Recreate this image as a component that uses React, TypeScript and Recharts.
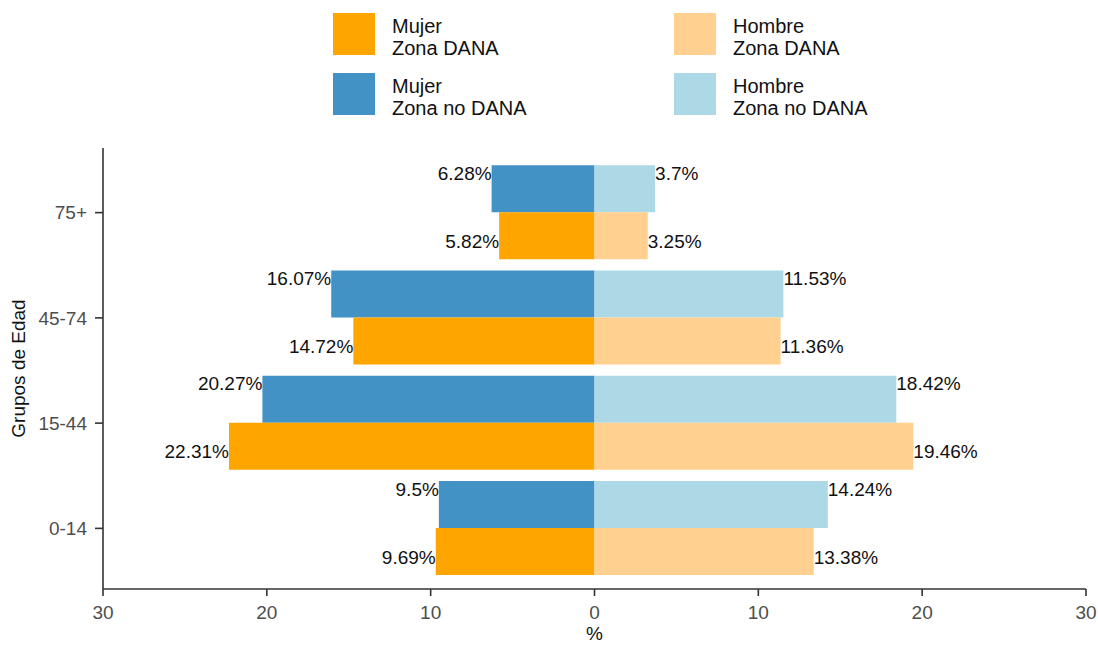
import React from 'react';
import { BarChart, Bar, XAxis, YAxis, LabelList } from 'recharts';

// ---- data ----
const grupos = ['75+', '45-74', '15-44', '0-14'];
const mujerNoDana = [6.28, 16.07, 20.27, 9.5];
const hombreNoDana = [3.7, 11.53, 18.42, 14.24];
const mujerDana = [5.82, 14.72, 22.31, 9.69];
const hombreDana = [3.25, 11.36, 19.46, 13.38];
const xTicks = [-30, -20, -10, 0, 10, 20, 30];

const tableData = grupos.map((g, i) => ({
  grupo: g,
  mujerNoDana: -mujerNoDana[i],
  hombreNoDana: hombreNoDana[i],
  mujerDana: -mujerDana[i],
  hombreDana: hombreDana[i],
}));

const FONT = '"Liberation Sans", Arial, Helvetica, sans-serif';

type Serie = { key: string; sexo: string; zona: string; color: string; stack: string };
const series: Serie[] = [
  { key: 'mujerNoDana', sexo: 'Mujer', zona: 'Zona no DANA', color: '#4292C6', stack: 'no' },
  { key: 'hombreNoDana', sexo: 'Hombre', zona: 'Zona no DANA', color: '#ADD8E6', stack: 'no' },
  { key: 'mujerDana', sexo: 'Mujer', zona: 'Zona DANA', color: '#FFA500', stack: 'si' },
  { key: 'hombreDana', sexo: 'Hombre', zona: 'Zona DANA', color: '#FFD08F', stack: 'si' },
];

const makeLabel = (side: 'left' | 'right', dyTop: number) => (props: any) => {
  const { x, y, width, value } = props;
  const x0 = Number(x);
  const w = Number(width);
  const left = Math.min(x0, x0 + w);
  const right = Math.max(x0, x0 + w);
  const tx = side === 'left' ? left : right;
  return (
    <text
      x={tx}
      y={Number(y) + dyTop}
      textAnchor={side === 'left' ? 'end' : 'start'}
      dominantBaseline="central"
      fill="#111"
      fontSize={19}
      fontFamily={FONT}
    >
      {`${Math.abs(Number(value))}%`}
    </text>
  );
};

const Legend = () => (
  <>
    {series.map((s) => {
      const col = s.sexo === 'Mujer' ? 0 : 1;
      const row = s.zona === 'Zona DANA' ? 0 : 1;
      const left = 333 + col * 341;
      const top = 13 + row * 60;
      return (
        <div key={s.key} style={{ position: 'absolute', left, top, display: 'flex' }}>
          <div style={{ width: 42, height: 42, background: s.color }} />
          <div
            style={{
              marginLeft: 17,
              marginTop: 3,
              fontFamily: FONT,
              fontSize: 20,
              lineHeight: '21.5px',
              color: '#111',
            }}
          >
            {s.sexo}
            <br />
            {s.zona}
          </div>
        </div>
      );
    })}
  </>
);

export default function App() {
  return (
    <div style={{ position: 'absolute', left: 0, top: 0, width: 1098, height: 646, background: '#fff' }}>
      <Legend />
      <BarChart
        width={1098}
        height={646}
        data={tableData}
        layout="vertical"
        stackOffset="sign"
        barCategoryGap="5%"
        barGap={0}
        margin={{ top: 148, right: 12, bottom: 0, left: 0 }}
      >
        <XAxis
          type="number"
          domain={[-30, 30]}
          ticks={xTicks}
          tickFormatter={(v: number) => String(Math.abs(v))}
          height={57}
          tickSize={7}
          tickMargin={10}
          axisLine={{ stroke: '#333', strokeWidth: 1.6 }}
          tickLine={{ stroke: '#333', strokeWidth: 1.6 }}
          tick={{ fill: '#4d4d4d', fontSize: 19, fontFamily: FONT }}
          allowDataOverflow
          label={{
            content: (p: any) => {
              const vb = p.viewBox || {};
              return (
                <text
                  x={vb.x + vb.width / 2}
                  y={vb.y + 51}
                  textAnchor="middle"
                  fill="#111"
                  fontSize={19}
                  fontFamily={FONT}
                >
                  %
                </text>
              );
            },
          }}
        />
        <YAxis
          type="category"
          dataKey="grupo"
          width={103}
          padding={{ top: 12, bottom: 8 }}
          tickSize={8}
          tickMargin={8}
          axisLine={{ stroke: '#333', strokeWidth: 1.6 }}
          tickLine={{ stroke: '#333', strokeWidth: 1.6 }}
          tick={{ fill: '#4d4d4d', fontSize: 19, fontFamily: FONT }}
          label={{
            content: (p: any) => {
              const vb = p.viewBox || {};
              const cx = vb.x + 18;
              const cy = vb.y + vb.height / 2;
              return (
                <text
                  x={cx}
                  y={cy}
                  transform={`rotate(-90 ${cx} ${cy})`}
                  textAnchor="middle"
                  dominantBaseline="central"
                  fill="#111"
                  fontSize={19}
                  fontFamily={FONT}
                >
                  Grupos de Edad
                </text>
              );
            },
          }}
        />
        {series.map((s) => (
          <Bar
            key={s.key}
            dataKey={s.key}
            stackId={s.stack}
            fill={s.color}
            isAnimationActive={false}
          >
            <LabelList
              dataKey={s.key}
              content={makeLabel(s.sexo === 'Mujer' ? 'left' : 'right', s.stack === 'no' ? 8 : 29)}
            />
          </Bar>
        ))}
      </BarChart>
    </div>
  );
}
